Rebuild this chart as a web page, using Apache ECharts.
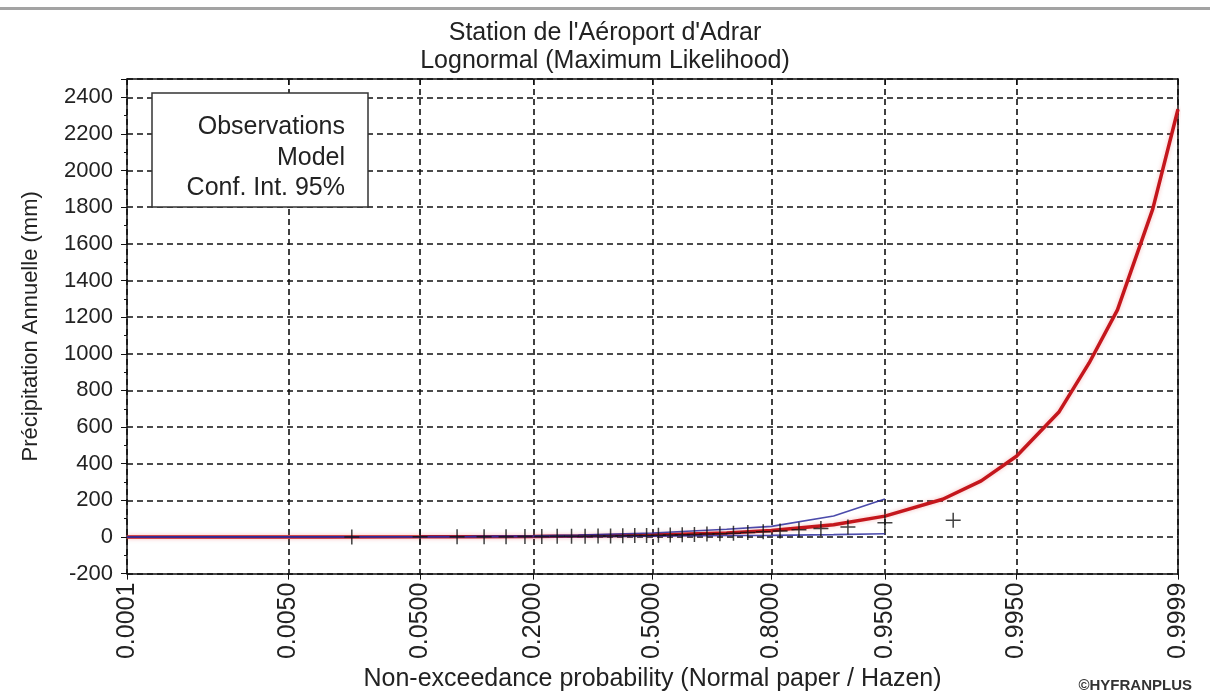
<!DOCTYPE html>
<html>
<head>
<meta charset="utf-8">
<title>Station de l'Aéroport d'Adrar</title>
<script src="https://cdn.jsdelivr.net/npm/echarts@6/dist/echarts.min.js"></script>
<style>
	html, body { margin: 0; padding: 0; background: #fff; }
	#chart { width: 1210px; height: 697px; }
</style>
</head>
<body>
<div id="chart"></div>
<script>
// axe des probabilités (papier normal)
var tickProb = [0.0001, 0.005, 0.05, 0.2, 0.5, 0.8, 0.95, 0.995, 0.9999];
var tickLabels = ['0.0001', '0.0050', '0.0500', '0.2000', '0.5000', '0.8000', '0.9500', '0.9950', '0.9999'];

// observations triées (30 années), position de Hazen
var obsValues = [0.3, 0.8, 1.2, 1.6, 2.0, 2.5, 3.0, 3.5, 4.0, 4.6, 5.2, 6.0, 6.8, 7.5, 8.4,
	9.5, 11, 12.5, 14, 16, 18, 21, 24, 28, 33, 40, 46, 55, 78, 92];

// modèle lognormal
var modelProb = [0.0001, 0.001, 0.01, 0.05, 0.1, 0.2, 0.3, 0.5, 0.7, 0.8, 0.9, 0.95,
	0.98, 0.99, 0.995, 0.998, 0.999, 0.9995, 0.9998, 0.9999];
var modelValues = [0.05, 0.1, 0.35, 0.9, 1.6, 3.0, 4.8, 10.3, 22, 35, 67, 114,
	206, 306, 441, 684, 950, 1240, 1790, 2335];

// intervalle de confiance 95%
var ciProb = [0.0001, 0.001, 0.01, 0.05, 0.1, 0.2, 0.3, 0.5, 0.7, 0.8, 0.9, 0.95];
var ciUpper = [0.3, 0.5, 1.2, 2.5, 4, 7, 11, 22, 42, 58, 115, 207];
var ciLower = [0.01, 0.02, 0.1, 0.3, 0.6, 1.2, 2, 4.5, 8, 9, 13, 18];

;(function(){
	var font = 'Liberation Sans, Arial, sans-serif';

	// quantile de la loi normale (Acklam)
	function probit(p) {
		var a = [-3.969683028665376e+01, 2.209460984245205e+02, -2.759285104469687e+02, 1.383577518672690e+02, -3.066479806614716e+01, 2.506628277459239e+00],
			b = [-5.447609879822406e+01, 1.615858368580409e+02, -1.556989798598866e+02, 6.680131188771972e+01, -1.328068155288572e+01],
			c = [-7.784894002430293e-03, -3.223964580411365e-01, -2.400758277161838e+00, -2.549732539343734e+00, 4.374664141464968e+00, 2.938163982698783e+00],
			d = [7.784695709041462e-03, 3.224671290700398e-01, 2.445134137142996e+00, 3.754408661907416e+00],
			pl = 0.02425, q, r;
		if (p < pl) {
			q = Math.sqrt(-2 * Math.log(p));
			return (((((c[0]*q+c[1])*q+c[2])*q+c[3])*q+c[4])*q+c[5]) / ((((d[0]*q+d[1])*q+d[2])*q+d[3])*q+1);
		}
		if (p <= 1 - pl) {
			q = p - 0.5; r = q * q;
			return (((((a[0]*r+a[1])*r+a[2])*r+a[3])*r+a[4])*r+a[5])*q / (((((b[0]*r+b[1])*r+b[2])*r+b[3])*r+b[4])*r+1);
		}
		q = Math.sqrt(-2 * Math.log(1 - p));
		return -(((((c[0]*q+c[1])*q+c[2])*q+c[3])*q+c[4])*q+c[5]) / ((((d[0]*q+d[1])*q+d[2])*q+d[3])*q+1);
	}

	function pairs(probs, vals) {
		return probs.map(function (p, i) { return [probit(p), vals[i]]; });
	}

	var tickZ = tickProb.map(probit),
		zMin = tickZ[0],
		zMax = tickZ[tickZ.length - 1],
		n = obsValues.length,
		obsData = obsValues.map(function (v, i) { return [probit((i + 0.5) / n), v]; });

	function probLabel(v) {
		var best = 0;
		for (var i = 1; i < tickZ.length; i++) {
			if (Math.abs(tickZ[i] - v) < Math.abs(tickZ[best] - v)) best = i;
		}
		return tickLabels[best];
	}

	var dash = { color: '#111', width: 1.6, type: [6, 4] };
	var chart = echarts.init(document.getElementById('chart'));

	chart.setOption({
		animation: false,
		backgroundColor: '#fff',
		title: {
			text: "Station de l'Aéroport d'Adrar\nLognormal (Maximum Likelihood)",
			left: 'center',
			top: 14,
			textStyle: { fontFamily: font, fontSize: 25, fontWeight: 'normal', color: '#222', lineHeight: 28 }
		},
		grid: { left: 127, right: 32, top: 79, bottom: 123 },
		xAxis: [{
			type: 'value',
			position: 'bottom',
			min: zMin,
			max: zMax,
			name: 'Non-exceedance probability (Normal paper / Hazen)',
			nameLocation: 'middle',
			nameGap: 89,
			nameTextStyle: { fontFamily: font, fontSize: 25, color: '#222' },
			axisLine: { onZero: false, lineStyle: { color: '#111', width: 1.5 } },
			axisTick: { customValues: tickZ, length: 6, lineStyle: { color: '#111' } },
			axisLabel: {
				customValues: tickZ,
				rotate: 90,
				margin: 9,
				fontFamily: font,
				fontSize: 25,
				color: '#222',
				formatter: probLabel
			},
			splitLine: { show: true, lineStyle: dash }
		}, {
			type: 'value',
			position: 'top',
			min: zMin,
			max: zMax,
			axisLine: { show: true, onZero: false, lineStyle: { color: '#111', width: 1.5 } },
			axisTick: { customValues: tickZ, inside: true, length: 6, lineStyle: { color: '#111' } },
			axisLabel: { show: false },
			splitLine: { show: false }
		}],
		yAxis: [{
			type: 'value',
			min: -200,
			max: 2500,
			interval: 200,
			name: 'Précipitation Annuelle (mm)',
			nameLocation: 'middle',
			nameGap: 85,
			nameTextStyle: { fontFamily: font, fontSize: 22, color: '#222' },
			axisLine: { show: true, onZero: false, lineStyle: { color: '#111', width: 1.5 } },
			axisTick: { show: true, length: 6, lineStyle: { color: '#111' } },
			minorTick: { show: true, splitNumber: 2, length: 3, lineStyle: { color: '#111' } },
			axisLabel: {
				fontFamily: font,
				fontSize: 22,
				color: '#222',
				margin: 14,
				showMaxLabel: false,
				formatter: function (v) { return String(v); }
			},
			splitLine: { show: true, lineStyle: dash }
		}, {
			type: 'value',
			position: 'right',
			min: -200,
			max: 2500,
			axisLine: { show: true, onZero: false, lineStyle: { color: '#111', width: 1.5 } },
			axisTick: { show: false },
			axisLabel: { show: false },
			splitLine: { show: false }
		}],
		series: [{
			name: 'Model',
			type: 'line',
			data: pairs(modelProb, modelValues),
			showSymbol: false,
			z: 3,
			lineStyle: { color: '#c4161c', width: 3.5, shadowColor: 'rgba(230,60,60,0.35)', shadowBlur: 4 }
		}, {
			name: 'Conf. Int. upper',
			type: 'line',
			data: pairs(ciProb, ciUpper),
			showSymbol: false,
			z: 4,
			lineStyle: { color: '#2b2b9c', width: 1.6, opacity: 0.85 }
		}, {
			name: 'Conf. Int. lower',
			type: 'line',
			data: pairs(ciProb, ciLower),
			showSymbol: false,
			z: 4,
			lineStyle: { color: '#2b2b9c', width: 1.6, opacity: 0.85 }
		}, {
			name: 'Observations',
			type: 'scatter',
			data: obsData,
			symbol: 'path://M5,0L5,10M0,5L10,5',
			symbolSize: 15,
			z: 5,
			itemStyle: { color: 'none', borderColor: '#111', borderWidth: 1.5 }
		}],
		graphic: [{
			type: 'rect',
			shape: { x: 0, y: 7, width: 1210, height: 3 },
			style: { fill: '#a3a3a3' }
		}, {
			type: 'rect',
			z: 10,
			shape: { x: 152, y: 93, width: 216, height: 114 },
			style: { fill: '#fff', stroke: '#333', lineWidth: 1.5 }
		}, {
			type: 'text',
			z: 11,
			x: 345,
			y: 127,
			style: { text: 'Observations', font: '25px ' + font, fill: '#222', align: 'right', verticalAlign: 'middle' }
		}, {
			type: 'text',
			z: 11,
			x: 345,
			y: 158,
			style: { text: 'Model', font: '25px ' + font, fill: '#222', align: 'right', verticalAlign: 'middle' }
		}, {
			type: 'text',
			z: 11,
			x: 345,
			y: 188,
			style: { text: 'Conf. Int. 95%', font: '25px ' + font, fill: '#222', align: 'right', verticalAlign: 'middle' }
		}, {
			type: 'text',
			x: 1192,
			y: 686,
			style: { text: '©HYFRANPLUS', font: 'bold 15px ' + font, fill: '#333', align: 'right', verticalAlign: 'middle' }
		}]
	});
}());
</script>
</body>
</html>
